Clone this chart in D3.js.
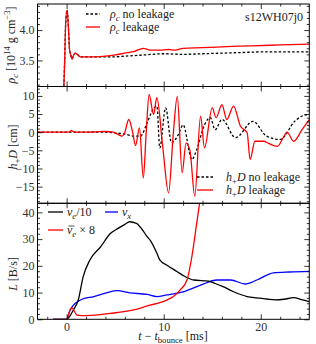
<!DOCTYPE html>
<html><head><meta charset="utf-8">
<script src="https://cdn.jsdelivr.net/npm/d3@7/dist/d3.min.js"></script>
<style>
body{margin:0;background:#fff;}
svg text{font-family:"Liberation Serif","DejaVu Serif",serif;}
</style></head>
<body><svg id="c" width="316" height="344"></svg>
<script>
// ---------- data ----------
const xDomain = [-3, 25];
const xMajor = [0, 10, 20];
// panel 1: central density
const tRhoLeak = [-3, -0.35, -0.2, -0.1, 0.05, 0.2, 0.3, 0.45, 0.55, 0.7, 0.9, 1.1, 1.4, 2, 3, 4, 5, 6, 7, 7.9, 8.6, 9.6, 10.5, 11.2, 12, 14, 15.5, 17, 19, 21, 23, 25];
const rhoLeak  = [2.0, 2.9, 3.5, 4.1, 4.33, 4.0, 3.68, 3.58, 3.52, 3.58, 3.62, 3.6, 3.56, 3.56, 3.56, 3.57, 3.59, 3.62, 3.65, 3.70, 3.67, 3.67, 3.68, 3.67, 3.70, 3.71, 3.72, 3.73, 3.74, 3.75, 3.76, 3.77];
const tRhoNo   = [-3, -0.35, -0.2, -0.1, 0.05, 0.2, 0.3, 0.45, 0.55, 0.7, 0.9, 1.1, 1.4, 2, 3, 4, 5, 6, 8, 10, 12, 14, 16, 18, 20, 22, 25];
const rhoNo    = [2.0, 2.9, 3.5, 4.1, 4.33, 4.0, 3.68, 3.58, 3.52, 3.58, 3.62, 3.6, 3.56, 3.56, 3.56, 3.56, 3.56, 3.57, 3.59, 3.61, 3.60, 3.61, 3.62, 3.63, 3.64, 3.64, 3.64];
// panel 2: GW strain
const tHLeak = [-3, 0, 0.3, 0.5, 0.7, 1, 2, 3, 4, 4.8, 5.3, 5.7, 6.0, 6.4, 6.8, 7.1, 7.5, 7.9, 8.2, 8.5, 8.95, 9.3, 9.9, 10.5, 11.0, 11.4, 11.9, 12.3, 12.7, 13.2, 13.8, 14.2, 15.0, 15.4, 16.0, 16.5, 17.2, 17.9, 18.6, 18.9, 19.4, 20.3, 20.8, 21.7, 22.4, 22.7, 23.4, 24.2, 25];
const hLeak  = [0, 0, 0.1, 0.5, 0.1, 0, 0, 0.1, 0.2, 0, -0.6, -1.1, 0, 3.5, 0, -3.7, 1.2, -12.6, 0, 10.4, 4.9, 9.5, -4, -16.7, 0, 9.9, -11.2, -3, -5, -17.6, 4.4, -4.3, 6.7, 4.0, 7.6, 3.5, 7.2, 1.7, -0.2, -7.5, -2.5, -2.5, -3.1, -3.9, -1.1, 0, -2.5, 0.5, 3.5];
const tHNo = [-3, 0, 1, 2, 3, 4, 5, 6, 7, 7.6, 8.3, 8.9, 9.3, 9.6, 10.2, 10.8, 11.5, 12.0, 12.9, 13.4, 14.2, 14.8, 15.3, 16.0, 17.4, 19.2, 20.6, 22.0, 23.5, 24.2, 25];
const hNo  = [0, 0, 0, 0, 0, 0, -0.2, -0.5, -1.1, -1.1, 2.6, 6.3, 7.2, -4.3, 6.7, -2.9, -0.7, 2, -7.5, -4.8, 2, 4, 0.7, 3.5, -1.5, 3.0, -1.1, -2.0, 3.0, 4.4, 4.9];
// panel 3: luminosities
const tNue = [-1.4, 0, 0.3, 0.7, 1.2, 1.7, 2.4, 3.5, 4.5, 5.3, 6.0, 6.5, 7.2, 7.8, 8.3, 8.6, 9.3, 9.6, 10.3, 11.4, 12.2, 13.1, 14.6, 15.3, 16, 17.2, 18.6, 19.5, 20.6, 21.5, 22.4, 23.4, 24.2, 25];
const lNue = [0, 0, 1, 3.5, 7.2, 15.9, 22.2, 27.1, 32.1, 34, 35.5, 36.5, 35.9, 33.5, 30.9, 29.6, 24.7, 22.2, 20.3, 17.8, 16, 14.7, 14.3, 13.4, 12.4, 10.3, 8.5, 8, 7.6, 7.3, 7.5, 8.1, 7.4, 6.6];
const tNux = [-1.4, 0, 0.36, 0.9, 1.6, 2.8, 4.1, 5.2, 6.5, 8.3, 9.3, 10.3, 12, 13.8, 15.5, 16.9, 18.4, 19.6, 21.3, 23, 25];
const lNux = [0, 0, 3.5, 6.0, 7.5, 8.5, 9.9, 10.7, 9.9, 9.3, 8.5, 9.1, 10.3, 12.8, 14.7, 14.7, 13.2, 14.7, 17.4, 17.7, 17.9];
const tAnue = [-1.4, 0, 0.25, 0.53, 0.8, 1.05, 2.1, 4.5, 6.9, 8.6, 9.6, 10.3, 11.0, 11.7, 12.4, 12.9, 13.4, 13.8];
const lAnue = [0, 0, 2.5, 4.4, 3, 1.6, 1.4, 2.2, 3.5, 5.3, 6.2, 7.2, 8.5, 11, 14.7, 23.4, 35.9, 46];

// ---------- layout ----------
const svg = d3.select("#c");
const L = 37.5, R = 309.3;
const panels = [
  {top: 4, bot: 86.5, dom: [3.07, 4.43], major: [3.5, 4.0], minor: d3.range(3.1, 4.45, 0.1), fmt: d3.format(".1f")},
  {top: 86.5, bot: 203.3, dom: [-19.6, 12.6], major: [-15, -10, -5, 0, 5, 10], minor: d3.range(-19, 13, 1), fmt: d => d3.format("d")(d).replace("-", "\u2212")},
  {top: 203.3, bot: 319.3, dom: [0, 43.4], major: [0, 10, 20, 30, 40], minor: d3.range(0, 44, 2), fmt: d3.format("d")}
];
const x = d3.scaleLinear().domain(xDomain).range([L, R]);
const xMinor = d3.range(-2, 25.1, 2);
const tickCol = "#000";
const FS = 12, SUB = FS * 0.28, SUP = FS * 0.4;

function rich(sel, parts, size) {
  parts.forEach(p => {
    const ts = sel.append("tspan").text(p.t);
    if (p.i) ts.attr("font-style", "italic");
    if (p.s === "sub") ts.attr("font-size", size * 0.72).attr("dy", size * 0.28);
    if (p.s === "sup") ts.attr("font-size", size * 0.72).attr("dy", -size * 0.4);
    if (p.back) ts.attr("dy", p.back);
  });
}

panels.forEach((p, i) => {
  p.y = d3.scaleLinear().domain(p.dom).range([p.bot, p.top]);
  const g = svg.append("g");
  svg.append("clipPath").attr("id", "clip" + i).append("rect")
    .attr("x", L).attr("y", p.top).attr("width", R - L).attr("height", p.bot - p.top);
  p.g = g;
  p.plot = g.append("g").attr("clip-path", `url(#clip${i})`);
  const mk = (axis, tr, size, vals, fmt) => {
    const a = g.append("g").attr("transform", tr)
      .call(axis.tickValues(vals).tickSize(-size).tickPadding(3).tickFormat(fmt || (() => "")));
    a.select(".domain").remove();
    a.selectAll("line").attr("stroke", tickCol).attr("stroke-width", 0.8);
    a.selectAll("text").attr("font-size", FS).attr("fill", "#333")
      .attr("font-family", "Liberation Serif, serif");
    return a;
  };
  const minorY = p.minor.filter(v => !p.major.some(m => Math.abs(m - v) < 1e-6));
  mk(d3.axisLeft(p.y), `translate(${L},0)`, 5, p.major, p.fmt);
  mk(d3.axisLeft(p.y), `translate(${L},0)`, 2.5, minorY);
  mk(d3.axisRight(p.y), `translate(${R},0)`, 5, p.major);
  mk(d3.axisRight(p.y), `translate(${R},0)`, 2.5, minorY);
  mk(d3.axisTop(x), `translate(0,${p.top})`, 5, xMajor);
  mk(d3.axisTop(x), `translate(0,${p.top})`, 2.5, xMinor.filter(v => v % 10 !== 0));
  mk(d3.axisBottom(x), `translate(0,${p.bot})`, 5, xMajor, i === 2 ? d3.format("d") : null);
  mk(d3.axisBottom(x), `translate(0,${p.bot})`, 2.5, xMinor.filter(v => v % 10 !== 0));
  g.append("rect").attr("x", L).attr("y", p.top).attr("width", R - L).attr("height", p.bot - p.top)
    .attr("fill", "none").attr("stroke", "#000").attr("stroke-width", 1);
});

function line(p, ts, vs, color, dash) {
  const data = ts.map((t, k) => [t, vs[k]]);
  p.plot.append("path").datum(data)
    .attr("d", d3.line().x(d => x(d[0])).y(d => p.y(d[1])).curve(d3.curveMonotoneX))
    .attr("fill", "none").attr("stroke", color).attr("stroke-width", 1.3)
    .attr("stroke-dasharray", dash ? "2.5,2" : null).attr("stroke-linejoin", "round");
}
const [p1, p2, p3] = panels;
line(p1, tRhoNo, rhoNo, "#000", true);
line(p1, tRhoLeak, rhoLeak, "#ff0000");
line(p2, tHNo, hNo, "#000", true);
line(p2, tHLeak, hLeak, "#ff0000");
line(p3, tNux, lNux, "#0000ff");
line(p3, tNue, lNue, "#000");
line(p3, tAnue, lAnue, "#ff0000");

// ---------- legends ----------
function legItem(x0, x1, tx, y0, color, dash, parts) {
  svg.append("line").attr("x1", x0).attr("x2", x1).attr("y1", y0).attr("y2", y0)
    .attr("stroke", color).attr("stroke-width", 1.3).attr("stroke-dasharray", dash ? "2.5,2" : null);
  const t = svg.append("text").attr("x", tx).attr("y", y0 + 4).attr("font-size", FS).attr("fill", "#222");
  rich(t, parts, FS);
  return t;
}
legItem(86, 100, 110, 14, "#000", true, [{t: "ρ", i: 1}, {t: "c", i: 1, s: "sub"}, {t: " no leakage", back: -SUB}]);
legItem(86, 100, 110, 27, "#ff0000", false, [{t: "ρ", i: 1}, {t: "c", i: 1, s: "sub"}, {t: " leakage", back: -SUB}]);
svg.append("text").attr("x", 303).attr("y", 21).attr("text-anchor", "end").attr("font-size", FS).attr("fill", "#222").text("s12WH07j0");

legItem(197, 213, 226, 177, "#000", true, [{t: "h", i: 1}, {t: "+", s: "sub"}, {t: "D", i: 1, back: -SUB}, {t: " no leakage"}]);
legItem(197, 213, 226, 190, "#ff0000", false, [{t: "h", i: 1}, {t: "+", s: "sub"}, {t: "D", i: 1, back: -SUB}, {t: " leakage"}]);

legItem(48, 63, 67, 212, "#000", false, [{t: "ν", i: 1}, {t: "e", i: 1, s: "sub"}, {t: "/10", back: -SUB}]);
legItem(105, 118, 122, 212, "#0000ff", false, [{t: "ν", i: 1}, {t: "x", i: 1, s: "sub"}]);
legItem(48, 63, 67, 230, "#ff0000", false, [{t: "ν", i: 1}, {t: "e", i: 1, s: "sub"}, {t: " × 8", back: -SUB}]);
// overbar on anti-neutrino symbol
svg.append("line").attr("x1", 68.5).attr("x2", 74.5).attr("y1", 226).attr("y2", 226)
  .attr("stroke", "#222").attr("stroke-width", 0.8);

// ---------- axis titles ----------
function ytitle(cx, cy, parts) {
  const t = svg.append("text").attr("transform", `translate(${cx},${cy}) rotate(-90)`)
    .attr("text-anchor", "middle").attr("font-size", FS).attr("fill", "#222");
  rich(t, parts, FS);
}
ytitle(15, 45, [{t: "ρ", i: 1}, {t: "c", i: 1, s: "sub"}, {t: " [10", back: -SUB}, {t: "14", s: "sup"}, {t: " g cm", back: SUP}, {t: "−3", s: "sup"}, {t: "]", back: SUP}]);
ytitle(17, 147, [{t: "h", i: 1}, {t: "+", s: "sub"}, {t: "D", i: 1, back: -SUB}, {t: " [cm]"}]);
ytitle(17, 274, [{t: "L", i: 1}, {t: " [B/s]"}]);
const xt = svg.append("text").attr("x", 173).attr("y", 340).attr("text-anchor", "middle").attr("font-size", FS).attr("fill", "#222");
rich(xt, [{t: "t", i: 1}, {t: " − "}, {t: "t", i: 1}, {t: "bounce", s: "sub"}, {t: " [ms]", back: -SUB}], FS);
</script></body></html>
